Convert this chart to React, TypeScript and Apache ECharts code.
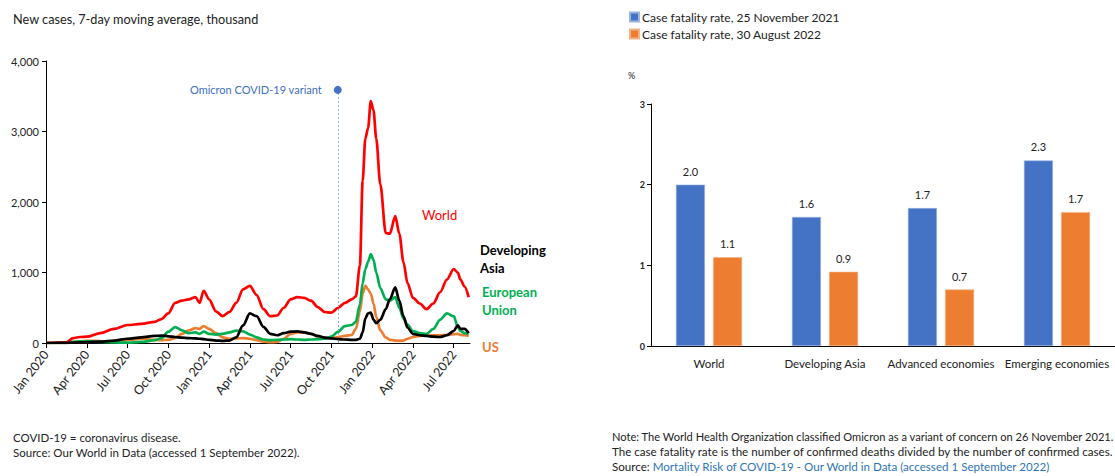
import React, { useEffect, useRef } from "react";
import * as echarts from "echarts";

// ---- Left chart: new cases, 7-day moving average, thousand ----
// x = months since 1 Jan 2020
const months = [
  0, 0.5, 1, 1.5, 2, 2.5, 3, 4, 5, 6, 7, 8, 8.5, 9, 9.5, 10, 10.5, 11, 11.3, 11.6,
  12, 12.5, 13, 13.5, 14, 14.5, 15, 15.5, 16, 16.5, 17, 17.5, 18, 18.5, 19, 19.5,
  20, 20.5, 21, 21.5, 22, 22.5, 22.8, 23.1, 23.3, 23.5, 23.7, 23.9, 24.1, 24.3,
  24.6, 25, 25.3, 25.7, 26, 26.3, 26.6, 27, 27.5, 28, 28.5, 29, 29.5, 30, 30.3,
  30.5, 30.8, 31.1,
];
const worldCases = [
  0, 2, 5, 10, 70, 85, 90, 140, 200, 255, 270, 300, 340, 420, 570, 600, 620, 650, 570, 740,
  620, 450, 380, 440, 570, 760, 810, 680, 480, 380, 390, 500, 620, 650, 640, 600,
  510, 440, 430, 500, 570, 620, 660, 1100, 2300, 2900, 3050, 3430, 3300, 2900,
  2250, 1560, 1550, 1800, 1550, 1150, 850, 640, 560, 480, 560, 720, 900, 1050, 1000,
  900, 800, 650,
];
const euCases = [
  0, 0, 0, 2, 15, 25, 25, 15, 8, 5, 15, 40, 70, 160, 225, 180, 140, 150, 130, 160,
  130, 120, 130, 150, 175, 165, 120, 80, 50, 40, 45, 50, 55, 50, 45, 50,
  55, 60, 90, 160, 240, 255, 300, 550, 850, 1050, 1150, 1260, 1180, 1000,
  780, 620, 600, 650, 500, 350, 260, 170, 140, 130, 200, 330, 420, 380, 230,
  170, 140, 130,
];
const usCases = [
  0, 0, 0, 1, 10, 25, 30, 28, 22, 45, 60, 45, 40, 45, 70, 130, 180, 210, 200, 240,
  200, 140, 80, 60, 65, 70, 60, 40, 20, 12, 15, 60, 130, 150, 150, 130,
  95, 75, 70, 85, 100, 115, 200, 450, 700, 810, 760, 700, 560, 370,
  180, 80, 45, 35, 30, 35, 60, 85, 100, 105, 110, 110, 115, 125, 130,
  115, 110, 100,
];
const devAsiaCases = [
  0, 0, 1, 2, 5, 8, 12, 20, 35, 60, 80, 100, 105, 95, 85, 75, 70, 65, 60, 55,
  45, 35, 30, 35, 80, 250, 420, 380, 230, 130, 110, 140, 160, 165, 150, 130,
  100, 75, 65, 55, 50, 45, 45, 60, 150, 350, 420, 430, 330, 280,
  330, 480, 620, 790, 600, 380, 220, 130, 110, 100, 90, 85, 110, 170, 250,
  200, 200, 140,
];
const quarterTicks = [0, 3, 6, 9, 12, 15, 18, 21, 24, 27, 30];
const quarterLabels = [
  "Jan 2020", "Apr 2020", "Jul 2020", "Oct 2020", "Jan 2021", "Apr 2021",
  "Jul 2021", "Oct 2021", "Jan 2022", "Apr 2022", "Jul 2022",
];
const caseTicks = [0, 1000, 2000, 3000, 4000];
const omicronMonth = 21.47;
const omicronTop = 3590;

// ---- Right chart: case fatality rate, % ----
const regions = ["World", "Developing Asia", "Advanced economies", "Emerging economies"];
const cfrNov2021 = [2.0, 1.6, 1.71, 2.3];
const cfrAug2022 = [1.1, 0.92, 0.7, 1.66];

const FONT = "Lato, 'Open Sans', sans-serif";
const RED = "#FF0000";
const GREEN = "#00B050";
const ORANGE = "#ED7D31";
const BLACK = "#000000";
const BLUE = "#4472C4";

export default function App() {
  const ref = useRef<HTMLDivElement>(null);

  useEffect(() => {
    if (!ref.current) return;
    const chart = echarts.init(ref.current, null, { renderer: "svg" });
    const pairs = (vals: number[]) => months.map((m, i) => [m, vals[i]]);
    const lineSeries = (name: string, vals: number[], color: string, z: number) => ({
      type: "line",
      name,
      xAxisIndex: 0,
      yAxisIndex: 0,
      data: pairs(vals),
      showSymbol: false,
      smooth: 0.3,
      smoothMonotone: "x",
      lineStyle: { color, width: 2.7 },
      itemStyle: { color },
      z,
    });

    chart.setOption({
      animation: false,
      textStyle: { fontFamily: FONT },
      grid: [
        { left: 46, top: 61, width: 424, height: 282 },
        { left: 651, top: 104, width: 471, height: 242 },
      ],
      legend: {
        data: ["Case fatality rate, 25 November 2021", "Case fatality rate, 30 August 2022"],
        orient: "vertical",
        left: 624,
        top: 6,
        itemWidth: 9,
        itemHeight: 9,
        itemGap: 5,
        icon: "rect",
        textStyle: { fontSize: 12, color: "#222", fontFamily: FONT, padding: [0, 0, 0, -2] },
      },
      xAxis: [
        {
          type: "value",
          gridIndex: 0,
          min: 0,
          max: 31.2,
          interval: 3,
          axisLine: { show: true, lineStyle: { color: "#000", width: 1 } },
          axisTick: { show: true, length: 5, customValues: quarterTicks, lineStyle: { color: "#000" } },
          axisLabel: {
            customValues: quarterTicks,
            rotate: 52,
            fontSize: 12.5,
            color: "#222",
            margin: 9,
            formatter: (v: number) => quarterLabels[Math.round(v / 3)] ?? "",
          },
          splitLine: { show: false },
        },
        {
          type: "category",
          gridIndex: 1,
          data: regions,
          axisLine: { show: true, lineStyle: { color: "#000", width: 1 } },
          axisTick: { show: false },
          axisLabel: { fontSize: 11.5, color: "#222", margin: 11, interval: 0 },
        },
      ],
      yAxis: [
        {
          type: "value",
          gridIndex: 0,
          min: 0,
          max: 4000,
          interval: 1000,
          axisLine: { show: true, lineStyle: { color: "#000", width: 1 } },
          axisTick: { show: true, length: 4, lineStyle: { color: "#000" } },
          axisLabel: {
            fontSize: 11,
            color: "#222",
            margin: 7,
            formatter: (v: number) => (caseTicks.includes(v) ? v.toLocaleString("en-US") : ""),
          },
          splitLine: { show: false },
        },
        {
          type: "value",
          gridIndex: 1,
          min: 0,
          max: 3,
          interval: 1,
          axisLine: { show: true, lineStyle: { color: "#000", width: 1 } },
          axisTick: { show: true, length: 4, lineStyle: { color: "#000" } },
          axisLabel: { fontSize: 9, fontWeight: "bold", color: "#222", margin: 6 },
          splitLine: { show: false },
        },
      ],
      series: [
        lineSeries("US", usCases, ORANGE, 2),
        lineSeries("European Union", euCases, GREEN, 3),
        lineSeries("World", worldCases, RED, 4),
        lineSeries("Developing Asia", devAsiaCases, BLACK, 5),
        {
          type: "scatter",
          name: "Omicron",
          xAxisIndex: 0,
          yAxisIndex: 0,
          data: [[omicronMonth, omicronTop]],
          symbol: "circle",
          symbolSize: 8,
          itemStyle: { color: BLUE, opacity: 1 },
          z: 6,
          label: {
            show: true,
            position: "left",
            distance: 12,
            formatter: "Omicron COVID-19 variant",
            color: "#3E6FC0",
            fontSize: 11,
            fontFamily: FONT,
            opacity: 1,
          },
          markLine: {
            silent: true,
            symbol: ["none", "none"],
            label: { show: false },
            lineStyle: { color: "#8EA9DB", type: [2, 2], width: 1, opacity: 1 },
            data: [[{ coord: [omicronMonth, 0] }, { coord: [omicronMonth, omicronTop] }]],
          },
        },
        {
          type: "bar",
          name: "Case fatality rate, 25 November 2021",
          xAxisIndex: 1,
          yAxisIndex: 1,
          data: cfrNov2021,
          barWidth: 29,
          barGap: "28%",
          itemStyle: { color: BLUE, borderColor: "#9DB3E0", borderWidth: 0.6 },
          label: {
            show: true,
            position: "top",
            distance: 8,
            fontSize: 11,
            color: "#222",
            formatter: (p: any) => Number(p.value).toFixed(1),
          },
        },
        {
          type: "bar",
          name: "Case fatality rate, 30 August 2022",
          xAxisIndex: 1,
          yAxisIndex: 1,
          data: cfrAug2022,
          barWidth: 29,
          barGap: "28%",
          itemStyle: { color: ORANGE, borderColor: "#F4B183", borderWidth: 0.6 },
          label: {
            show: true,
            position: "top",
            distance: 8,
            fontSize: 11,
            color: "#222",
            formatter: (p: any) => Number(p.value).toFixed(1),
          },
        },
      ],
      graphic: [
        {
          type: "text",
          left: 13,
          top: 12,
          style: { text: "New cases, 7-day moving average, thousand", fontSize: 12.7, fill: "#222", fontFamily: FONT },
        },
        {
          type: "text",
          x: 422,
          y: 215,
          style: { text: "World", fontSize: 13, fill: RED, fontFamily: FONT, verticalAlign: "middle" },
        },
        {
          type: "text",
          x: 480,
          y: 241,
          style: { text: "Developing\nAsia", fontSize: 13, fontWeight: "bold", fill: BLACK, lineHeight: 18, fontFamily: FONT },
        },
        {
          type: "text",
          x: 482,
          y: 283,
          style: { text: "European\nUnion", fontSize: 13, fontWeight: "bold", fill: GREEN, lineHeight: 18, fontFamily: FONT },
        },
        {
          type: "text",
          x: 482,
          y: 347,
          style: { text: "US", fontSize: 13, fontWeight: "bold", fill: ORANGE, fontFamily: FONT, verticalAlign: "middle" },
        },
        {
          type: "text",
          x: 628,
          y: 75,
          style: { text: "%", fontSize: 9, fill: "#222", fontFamily: FONT, verticalAlign: "middle" },
        },
        {
          type: "text",
          x: 13,
          y: 430,
          style: {
            text: "COVID-19 = coronavirus disease.\nSource: Our World in Data (accessed 1 September 2022).",
            fontSize: 11.5,
            lineHeight: 15,
            fill: "#222",
            fontFamily: FONT,
          },
        },
        {
          type: "text",
          x: 612,
          y: 431,
          style: {
            text: "Note: The World Health Organization classified Omicron as a variant of concern on 26 November 2021.",
            fontSize: 11.1,
            fill: "#222",
            fontFamily: FONT,
          },
        },
        {
          type: "text",
          x: 612,
          y: 445,
          style: {
            text: "The case fatality rate is the number of confirmed deaths divided by the number of confirmed cases.",
            fontSize: 11.6,
            fill: "#222",
            fontFamily: FONT,
          },
        },
        {
          type: "text",
          x: 612,
          y: 460,
          style: {
            text: "{a|Source: }{b|Mortality Risk of COVID-19 - Our World in Data (accessed 1 September 2022)}",
            fontFamily: FONT,
            rich: {
              a: { fontSize: 11.6, fill: "#222", fontFamily: FONT },
              b: { fontSize: 11.6, fill: "#2E75B6", fontFamily: FONT },
            },
          },
        },
      ],
    });

    return () => chart.dispose();
  }, []);

  return (
    <div
      ref={ref}
      style={{ position: "fixed", left: 0, top: 0, width: 1115, height: 476, background: "#fff" }}
    />
  );
}
